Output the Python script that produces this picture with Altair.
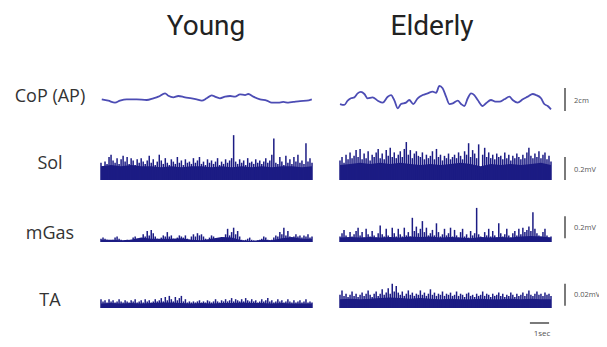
import altair as alt
import pandas as pd

# ---------------- data ----------------
DUR = 11.0  # seconds shown in each trace

titles = ["Young", "Elderly"]
rows = ["CoP (AP)", "Sol", "mGas", "TA"]
bar_labels = ["2cm", "0.2mV", "0.2mV", "0.02mV", "1sec"]
bar_sizes = [2.0, 0.2, 0.2, 0.02, 1.0]

# CoP (AP) displacement, cm
cop_young_t = [0.04, 0.38, 0.73, 0.99, 1.34, 1.86, 2.38, 2.73, 2.99, 3.34, 3.51, 3.77, 4.03,
               4.38, 4.73, 4.99, 5.25, 5.51, 5.77, 5.94, 6.20, 6.47, 6.73, 6.99, 7.25, 7.51,
               7.68, 7.94, 8.29, 8.64, 8.90, 9.24, 9.50, 9.77, 10.03, 10.38, 10.72, 10.99]
cop_young = [0.06, -0.06, -0.23, -0.06, 0.06, 0.06, 0.0, 0.15, 0.29, 0.58, 0.37, 0.23, 0.35,
             0.23, 0.15, 0.06, -0.06, 0.15, 0.41, 0.29, 0.15, 0.29, 0.35, 0.29, 0.49, 0.43,
             0.52, 0.29, 0.06, -0.06, -0.23, -0.23, -0.17, -0.23, -0.17, -0.09, -0.06, 0.06]
cop_old_t = [0.0, 0.22, 0.40, 0.57, 0.75, 0.92, 1.09, 1.27, 1.44, 1.70, 1.97, 2.23, 2.49, 2.66,
             2.84, 3.01, 3.18, 3.44, 3.61, 3.82, 4.05, 4.31, 4.57, 4.83, 5.01, 5.18, 5.35, 5.53,
             5.70, 5.88, 6.14, 6.31, 6.48, 6.66, 6.83, 7.00, 7.18, 7.44, 7.61, 7.87, 8.10, 8.31,
             8.57, 8.83, 9.00, 9.26, 9.53, 9.79, 10.05, 10.22, 10.48, 10.65, 10.83, 11.00]
cop_old = [-0.35, -0.43, -0.06, 0.15, 0.23, 0.58, 0.70, 0.52, 0.15, 0.23, -0.06, -0.23, 0.29, 0.43,
           -0.06, -0.72, -0.35, -0.23, 0.0, -0.35, 0.15, 0.43, 0.58, 0.72, 0.63, 1.22, 1.02, 0.29,
           -0.35, -0.29, -0.06, -0.35, -0.52, 0.15, 0.58, 0.43, 0.0, -0.52, -0.29, 0.0, -0.14, -0.14,
           0.06, 0.29, 0.0, -0.23, 0.06, 0.29, 0.52, 0.43, 0.15, -0.35, -0.52, -0.81]

# Rectified EMG, mV (106 samples per trace) and smoothed base level (22 samples)
sol_young = [0.15, 0.12, 0.16, 0.14, 0.20, 0.22, 0.17, 0.15, 0.19, 0.14,
             0.18, 0.21, 0.16, 0.20, 0.14, 0.19, 0.17, 0.13, 0.18, 0.15,
             0.19, 0.16, 0.14, 0.17, 0.21, 0.15, 0.18, 0.13, 0.16, 0.22,
             0.17, 0.14, 0.19, 0.15, 0.13, 0.18, 0.16, 0.14, 0.20, 0.15,
             0.17, 0.13, 0.18, 0.15, 0.16, 0.14, 0.19, 0.15, 0.17, 0.20,
             0.14, 0.16, 0.13, 0.18, 0.15, 0.17, 0.14, 0.16, 0.19, 0.13,
             0.16, 0.14, 0.18, 0.15, 0.17, 0.19, 0.39, 0.16, 0.14, 0.18,
             0.15, 0.17, 0.13, 0.19, 0.15, 0.16, 0.14, 0.18, 0.15, 0.17,
             0.14, 0.16, 0.19, 0.15, 0.17, 0.22, 0.36, 0.15, 0.14, 0.20,
             0.16, 0.13, 0.21, 0.15, 0.18, 0.14, 0.20, 0.16, 0.22, 0.15,
             0.17, 0.14, 0.32, 0.16, 0.19, 0.15]
sol_young_base = [0.12, 0.13, 0.12, 0.13, 0.12, 0.12, 0.11, 0.12, 0.11, 0.12, 0.12,
                  0.11, 0.12, 0.11, 0.12, 0.11, 0.12, 0.11, 0.12, 0.12, 0.11, 0.12]
sol_old = [0.17, 0.20, 0.15, 0.22, 0.18, 0.24, 0.19, 0.21, 0.26, 0.20,
           0.27, 0.18, 0.23, 0.19, 0.25, 0.17, 0.22, 0.20, 0.24, 0.27,
           0.19, 0.23, 0.18, 0.26, 0.21, 0.28, 0.20, 0.24, 0.19, 0.22,
           0.25, 0.20, 0.27, 0.33, 0.22, 0.26, 0.19, 0.23, 0.25, 0.21,
           0.20, 0.24, 0.18, 0.22, 0.19, 0.21, 0.25, 0.18, 0.27, 0.20,
           0.22, 0.17, 0.21, 0.19, 0.23, 0.18, 0.20, 0.22, 0.19, 0.24,
           0.21, 0.18, 0.25, 0.22, 0.32, 0.20, 0.26, 0.23, 0.19, 0.31,
           0.06, 0.22, 0.28, 0.20, 0.24, 0.19, 0.22, 0.18, 0.23, 0.20,
           0.21, 0.18, 0.24, 0.19, 0.22, 0.17, 0.21, 0.19, 0.23, 0.20,
           0.18, 0.22, 0.19, 0.24, 0.28, 0.21, 0.19, 0.23, 0.20, 0.25,
           0.19, 0.22, 0.24, 0.18, 0.21, 0.16]
sol_old_base = [0.13, 0.14, 0.15, 0.14, 0.15, 0.14, 0.15, 0.14, 0.13, 0.14, 0.13,
                0.14, 0.15, 0.14, 0.12, 0.14, 0.13, 0.14, 0.13, 0.14, 0.15, 0.13]

mgas_young = [0.03, 0.04, 0.03, 0.02, 0.015, 0.01, 0.02, 0.04, 0.05, 0.03,
              0.02, 0.01, 0.015, 0.02, 0.01, 0.02, 0.04, 0.05, 0.03, 0.02,
              0.03, 0.07, 0.05, 0.10, 0.06, 0.11, 0.08, 0.05, 0.03, 0.02,
              0.04, 0.06, 0.05, 0.09, 0.05, 0.06, 0.03, 0.02, 0.04, 0.06,
              0.05, 0.04, 0.06, 0.03, 0.02, 0.05, 0.07, 0.05, 0.08, 0.06,
              0.07, 0.05, 0.03, 0.02, 0.04, 0.06, 0.05, 0.03, 0.02, 0.015,
              0.02, 0.04, 0.07, 0.12, 0.06, 0.09, 0.13, 0.07, 0.10, 0.05,
              0.02, 0.015, 0.02, 0.03, 0.04, 0.02, 0.015, 0.01, 0.015, 0.02,
              0.03, 0.05, 0.04, 0.02, 0.015, 0.02, 0.04, 0.06, 0.05, 0.09,
              0.07, 0.13, 0.06, 0.10, 0.05, 0.03, 0.05, 0.07, 0.05, 0.06,
              0.04, 0.06, 0.05, 0.07, 0.04, 0.05]
mgas_young_base = [0.02, 0.02, 0.015, 0.02, 0.04, 0.03, 0.03, 0.03, 0.035, 0.02, 0.015,
                   0.03, 0.045, 0.04, 0.015, 0.01, 0.02, 0.015, 0.035, 0.045, 0.03, 0.03]
mgas_old = [0.05, 0.08, 0.11, 0.06, 0.04, 0.09, 0.05, 0.07, 0.10, 0.13,
            0.06, 0.09, 0.04, 0.12, 0.07, 0.05, 0.10, 0.06, 0.04, 0.08,
            0.15, 0.07, 0.05, 0.12, 0.06, 0.04, 0.13, 0.08, 0.05, 0.12,
            0.07, 0.05, 0.13, 0.06, 0.09, 0.05, 0.22, 0.10, 0.14, 0.08,
            0.12, 0.19, 0.09, 0.13, 0.06, 0.08, 0.11, 0.06, 0.17, 0.09,
            0.05, 0.07, 0.12, 0.06, 0.08, 0.13, 0.05, 0.11, 0.06, 0.04,
            0.09, 0.12, 0.05, 0.07, 0.04, 0.10, 0.06, 0.08, 0.31, 0.07,
            0.05, 0.04, 0.09, 0.06, 0.12, 0.05, 0.10, 0.06, 0.04, 0.17,
            0.08, 0.05, 0.07, 0.12, 0.06, 0.04, 0.08, 0.10, 0.06, 0.12,
            0.07, 0.13, 0.09, 0.11, 0.14, 0.10, 0.27, 0.12, 0.08, 0.06,
            0.05, 0.09, 0.12, 0.06, 0.04, 0.05]
mgas_old_base = [0.04, 0.045, 0.04, 0.045, 0.04, 0.045, 0.04, 0.05, 0.045, 0.05, 0.04,
                 0.045, 0.04, 0.035, 0.045, 0.04, 0.045, 0.04, 0.05, 0.055, 0.05, 0.04]

ta_young = [0.008, 0.006, 0.007, 0.005, 0.008, 0.006, 0.007, 0.005, 0.006, 0.008,
            0.006, 0.005, 0.007, 0.006, 0.005, 0.007, 0.006, 0.008, 0.005, 0.006,
            0.007, 0.005, 0.008, 0.006, 0.007, 0.005, 0.006, 0.008, 0.006, 0.007,
            0.009, 0.006, 0.010, 0.007, 0.011, 0.008, 0.006, 0.010, 0.007, 0.009,
            0.011, 0.006, 0.008, 0.005, 0.006, 0.005, 0.006, 0.005, 0.006, 0.007,
            0.005, 0.006, 0.005, 0.007, 0.006, 0.005, 0.006, 0.008, 0.006, 0.005,
            0.007, 0.006, 0.008, 0.006, 0.007, 0.009, 0.006, 0.008, 0.007, 0.006,
            0.008, 0.006, 0.009, 0.007, 0.006, 0.008, 0.006, 0.007, 0.005, 0.006,
            0.008, 0.006, 0.007, 0.009, 0.006, 0.007, 0.005, 0.006, 0.008, 0.006,
            0.007, 0.005, 0.006, 0.008, 0.006, 0.005, 0.007, 0.005, 0.006, 0.007,
            0.005, 0.006, 0.008, 0.005, 0.006, 0.005]
ta_young_base = [0.004, 0.0045, 0.004, 0.0045, 0.004, 0.0045, 0.005, 0.005, 0.0045, 0.004, 0.0045,
                 0.004, 0.0045, 0.0045, 0.005, 0.0045, 0.0045, 0.004, 0.0045, 0.004, 0.004, 0.004]
ta_old = [0.012, 0.016, 0.011, 0.013, 0.010, 0.012, 0.015, 0.011, 0.013, 0.010,
          0.012, 0.014, 0.011, 0.013, 0.016, 0.012, 0.010, 0.013, 0.015, 0.011,
          0.013, 0.017, 0.012, 0.014, 0.018, 0.013, 0.022, 0.015, 0.020, 0.014,
          0.012, 0.015, 0.011, 0.013, 0.016, 0.012, 0.014, 0.011, 0.013, 0.012,
          0.016, 0.012, 0.014, 0.011, 0.013, 0.017, 0.012, 0.014, 0.011, 0.013,
          0.012, 0.015, 0.011, 0.013, 0.012, 0.014, 0.011, 0.012, 0.015, 0.011,
          0.013, 0.012, 0.010, 0.013, 0.014, 0.011, 0.012, 0.010, 0.013, 0.011,
          0.012, 0.015, 0.011, 0.013, 0.012, 0.010, 0.013, 0.011, 0.012, 0.014,
          0.011, 0.013, 0.010, 0.012, 0.011, 0.014, 0.012, 0.010, 0.013, 0.011,
          0.012, 0.014, 0.011, 0.013, 0.016, 0.012, 0.011, 0.013, 0.015, 0.012,
          0.013, 0.011, 0.014, 0.012, 0.013, 0.011]
ta_old_base = [0.008, 0.0085, 0.008, 0.0085, 0.009, 0.0095, 0.009, 0.0085, 0.009, 0.0085, 0.008,
               0.0085, 0.008, 0.008, 0.0085, 0.008, 0.008, 0.0085, 0.008, 0.0085, 0.008, 0.008]

# ---------------- layout / style ----------------
W, H = 591, 331
X_YOUNG = [93, 304]
X_OLD = [332, 543]
Y_COP = ([-2, 2], [115, 69])
Y_SOL = ([0, 0.4], [172, 126])
Y_MGAS = ([0, 0.4], [234, 190])
Y_TA = ([0, 0.04], [300, 256])
BAR_X = 557
BAR_LABEL_X = 566
BAR_START = [-0.95, 0.0, 0.035, 0.002]
TIME_BAR_START = 9.9
TIME_BAR_Y = 315

EMG_COLOR = "#1c1c84"
COP_COLOR = "#4c4cb4"
TEXT_COLOR = "#333333"
BAR_COLOR = "#7a7a7a"
FONT = "Open Sans"
TITLE_FONT = "Roboto"


def xscale(rng):
    return alt.Scale(domain=[0, DUR], range=rng, nice=False, zero=False)


def yscale(spec):
    return alt.Scale(domain=spec[0], range=spec[1], nice=False, zero=False)


def sample_times(n):
    return [i * DUR / (n - 1) for i in range(n)]


def cop_layer(t, v, xr):
    df = pd.DataFrame({"t": t, "v": v})
    return alt.Chart(df).mark_line(color=COP_COLOR, strokeWidth=1.8, interpolate="monotone").encode(
        x=alt.X("t:Q", scale=xscale(xr), axis=None),
        y=alt.Y("v:Q", scale=yscale(Y_COP), axis=None),
    )


def emg_layers(vals, base, xr, ys):
    d1 = pd.DataFrame({"t": sample_times(len(base)), "v": base})
    d2 = pd.DataFrame({"t": sample_times(len(vals)), "v": vals})
    area = alt.Chart(d1).mark_area(color=EMG_COLOR).encode(
        x=alt.X("t:Q", scale=xscale(xr), axis=None),
        y=alt.Y("v:Q", scale=yscale(ys), axis=None),
        y2=alt.datum(0),
    )
    rules = alt.Chart(d2).mark_rule(color=EMG_COLOR, strokeWidth=1.5).encode(
        x=alt.X("t:Q", scale=xscale(xr), axis=None),
        y=alt.Y("v:Q", scale=yscale(ys), axis=None),
        y2=alt.datum(0),
    )
    return [area, rules]


def text_layer(label, x, y, size, align="center", color=TEXT_COLOR, baseline="middle", font=FONT):
    df = pd.DataFrame({"label": [label]})
    return alt.Chart(df).mark_text(
        font=font, fontSize=size, align=align, baseline=baseline, color=color
    ).encode(x=alt.value(x), y=alt.value(y), text="label:N")


def vbar(start, size, ys):
    df = pd.DataFrame({"lo": [start], "hi": [start + size]})
    return alt.Chart(df).mark_rule(color=BAR_COLOR, strokeWidth=2).encode(
        x=alt.value(BAR_X),
        y=alt.Y("lo:Q", scale=yscale(ys), axis=None),
        y2="hi:Q",
    )


layers = []
layers.append(cop_layer(cop_young_t, cop_young, X_YOUNG))
layers.append(cop_layer(cop_old_t, cop_old, X_OLD))
layers += emg_layers(sol_young, sol_young_base, X_YOUNG, Y_SOL)
layers += emg_layers(sol_old, sol_old_base, X_OLD, Y_SOL)
layers += emg_layers(mgas_young, mgas_young_base, X_YOUNG, Y_MGAS)
layers += emg_layers(mgas_old, mgas_old_base, X_OLD, Y_MGAS)
layers += emg_layers(ta_young, ta_young_base, X_YOUNG, Y_TA)
layers += emg_layers(ta_old, ta_old_base, X_OLD, Y_TA)

# scale bars
for start, size, ys in zip(BAR_START, bar_sizes[:4], [Y_COP, Y_SOL, Y_MGAS, Y_TA]):
    layers.append(vbar(start, size, ys))
tb = pd.DataFrame({"t0": [TIME_BAR_START], "t1": [TIME_BAR_START + bar_sizes[4]]})
layers.append(alt.Chart(tb).mark_rule(color=BAR_COLOR, strokeWidth=2).encode(
    x=alt.X("t0:Q", scale=xscale(X_OLD), axis=None),
    x2="t1:Q",
    y=alt.value(TIME_BAR_Y),
))

# text
layers.append(text_layer(titles[0], 198, 27, 28, baseline="alphabetic", color="#222222", font=TITLE_FONT))
layers.append(text_layer(titles[1], 424, 27, 28, baseline="alphabetic", color="#222222", font=TITLE_FONT))
for lab, y in zip(rows, [89, 156, 226, 293]):
    layers.append(text_layer(lab, 42, y, 18))
for lab, y in zip(bar_labels, [93, 162, 220, 287, 326]):
    if lab == "1sec":
        layers.append(text_layer(lab, 534, y, 8, color="#555555"))
    else:
        layers.append(text_layer(lab, BAR_LABEL_X, y, 7.5, align="left", color="#555555"))

chart = alt.layer(*layers).resolve_scale(x="independent", y="independent").properties(
    width=W, height=H, autosize=alt.AutoSizeParams(type="none"), padding=0
).configure_view(stroke=None)

chart.save("out.html", embed_options={"renderer": "svg", "actions": False})
